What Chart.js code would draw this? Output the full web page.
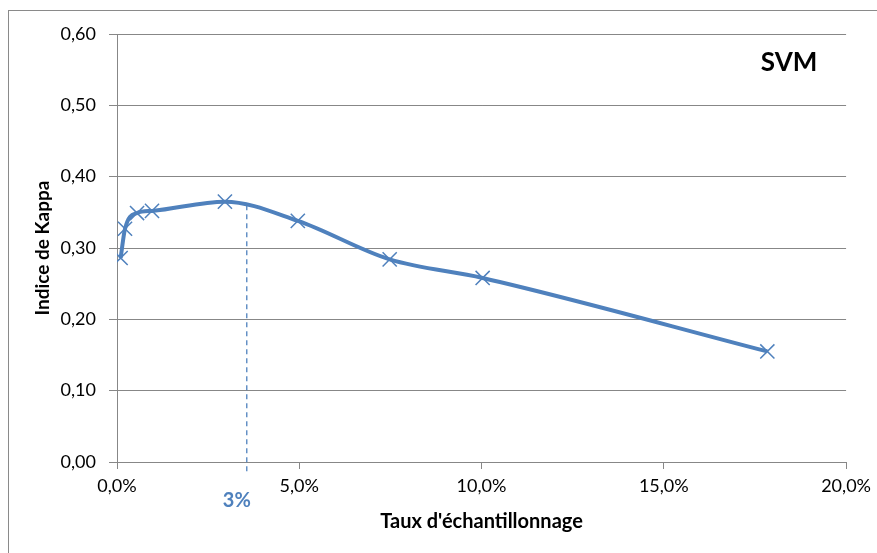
<!DOCTYPE html>
<html>
<head>
<meta charset="utf-8">
<script src="https://cdn.jsdelivr.net/npm/chart.js@4"></script>
<style>
  html, body { margin: 0; padding: 0; background: #fff; }
  #wrap { position: relative; width: 877px; height: 553px; overflow: hidden; }
  #frame { position: absolute; left: 8px; top: 10px; width: 900px; height: 600px;
           border-left: 1px solid #8a8a8a; border-top: 1px solid #8a8a8a; }
  canvas { position: absolute; left: 0; top: 0; }
</style>
</head>
<body>
<div id="wrap">
  <div id="frame"></div>
  <canvas id="kappaChart" width="877" height="553"></canvas>
</div>
<script>
// Sampling rate (%) and Kappa index
const samplingRates = [0.1, 0.22, 0.55, 0.96, 2.96, 4.96, 7.48, 10.03, 17.84];
const kappaValues = [0.286, 0.327, 0.349, 0.352, 0.365, 0.338, 0.284, 0.258, 0.155];

// Marker for the retained rate (dashed guide)
const markerRate = [3.56];
const markerKappa = [0.36];
const markerLabel = "3%";

const xTicks = [0, 5, 10, 15, 20];
const yTicks = [0, 0.1, 0.2, 0.3, 0.4, 0.5, 0.6];

const BLUE = "#4F81BD";
const GRID = "#878787";
const FONT = "Lato, 'Open Sans', sans-serif";

const fmtComma = (v, d) => v.toFixed(d).replace(".", ",");

const overlay = {
  id: "overlay",
  afterDatasetsDraw(chart) {
    const { ctx, scales, chartArea } = chart;
    const x = scales.x.getPixelForValue(markerRate[0]);
    const yTop = scales.y.getPixelForValue(markerKappa[0]);
    const yBottom = chartArea.bottom + 11;

    ctx.save();
    ctx.strokeStyle = BLUE;
    ctx.lineWidth = 1.3;
    ctx.setLineDash([5, 4]);
    ctx.beginPath();
    ctx.moveTo(x, yTop);
    ctx.lineTo(x, yBottom);
    ctx.stroke();
    ctx.setLineDash([]);

    ctx.fillStyle = BLUE;
    ctx.font = "bold 20px " + FONT;
    ctx.textAlign = "center";
    ctx.textBaseline = "middle";
    ctx.fillText(markerLabel, x - 10, chartArea.bottom + 39);

    ctx.fillStyle = "#000";
    ctx.font = "bold 26px " + FONT;
    ctx.fillText("SVM", chartArea.right - 57, chartArea.top + 29);
    ctx.restore();
  },
};

new Chart(document.getElementById("kappaChart"), {
  type: "line",
  data: {
    datasets: [
      {
        label: "SVM",
        data: samplingRates.map((r, i) => ({ x: r, y: kappaValues[i] })),
        borderColor: BLUE,
        borderWidth: 4,
        cubicInterpolationMode: "monotone",
        pointStyle: "crossRot",
        pointRadius: 10,
        pointBorderWidth: 1.5,
        pointBorderColor: BLUE,
        pointBackgroundColor: BLUE,
        fill: false,
      },
    ],
  },
  options: {
    responsive: false,
    animation: false,
    events: [],
    layout: { padding: { top: 34, right: 30, left: 0, bottom: 0 } },
    plugins: { legend: { display: false }, tooltip: { enabled: false } },
    scales: {
      x: {
        type: "linear",
        min: 0,
        max: 20,
        afterBuildTicks: (axis) => { axis.ticks = xTicks.map((v) => ({ value: v })); },
        afterFit: (axis) => { axis.height = 91; },
        grid: { drawOnChartArea: false, drawTicks: true, tickLength: 7, color: GRID },
        border: { color: GRID, width: 1 },
        ticks: {
          color: "#000",
          font: { family: FONT, size: 18 },
          padding: 6,
          maxRotation: 0,
          callback: (v) => fmtComma(v, 1) + "%",
        },
        title: {
          display: true,
          text: "Taux d'échantillonnage",
          color: "#000",
          font: { family: FONT, size: 20, weight: "bold" },
          padding: { top: 4, bottom: 19 },
        },
      },
      y: {
        min: 0,
        max: 0.6,
        afterBuildTicks: (axis) => { axis.ticks = yTicks.map((v) => ({ value: v })); },
        afterFit: (axis) => { axis.width = 117; },
        grid: { color: GRID, tickLength: 8 },
        border: { color: GRID, width: 1 },
        ticks: {
          color: "#000",
          font: { family: FONT, size: 18 },
          padding: 13,
          callback: (v) => fmtComma(v, 2),
        },
        title: {
          display: true,
          text: "Indice de Kappa",
          color: "#000",
          font: { family: FONT, size: 19, weight: "bold" },
          padding: { top: 31, bottom: 0 },
        },
      },
    },
  },
  plugins: [overlay],
});
</script>
</body>
</html>
